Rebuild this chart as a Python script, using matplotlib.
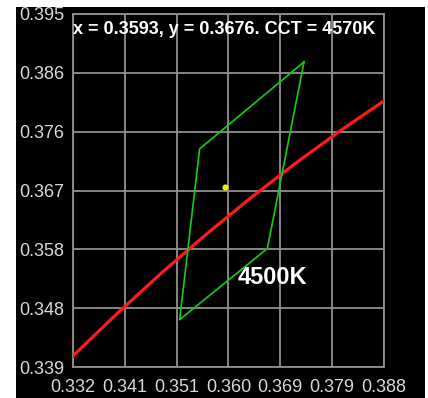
import matplotlib
matplotlib.use("Agg")
import matplotlib.pyplot as plt
from matplotlib.patches import Rectangle

# Planckian locus samples (CIE 1931 x, y)
locus_x = [0.332, 0.340, 0.348, 0.356, 0.364, 0.372, 0.380, 0.388]
locus_y = [0.34075, 0.34753, 0.35397, 0.36006, 0.36583, 0.37127, 0.37640, 0.38123]

# ANSI 4500K quadrangle corners
quad_x = [0.3736, 0.3548, 0.3512, 0.3670]
quad_y = [0.3874, 0.3736, 0.3465, 0.3578]

# Measured chromaticity
point_x = 0.3593
point_y = 0.3676
cct = 4570
nominal_label = "4500K"

x_ticks = [0.332, 0.341333, 0.350667, 0.360, 0.369333, 0.378667, 0.388]
y_ticks = [0.339, 0.348333, 0.357667, 0.367, 0.376333, 0.385667, 0.395]

FONT = "Liberation Sans"
W, H = 428, 398
fig = plt.figure(figsize=(W / 100, H / 100), dpi=100)
fig.patch.set_facecolor("white")
fig.patches.append(Rectangle((16 / W, 0), (425 - 16) / W, (H - 7) / H,
                             transform=fig.transFigure, facecolor="black",
                             edgecolor="none", zorder=-10))

ax = fig.add_axes([73 / W, (H - 367) / H, (384 - 73) / W, (367 - 14) / H])
ax.set_facecolor("black")
ax.set_xlim(x_ticks[0], x_ticks[-1])
ax.set_ylim(y_ticks[0], y_ticks[-1])
ax.set_xticks(x_ticks)
ax.set_yticks(y_ticks)
ax.set_xticklabels([f"{v:.3f}" for v in x_ticks])
ax.set_yticklabels([f"{v:.3f}" for v in y_ticks])

grid_col = "#919191"
ax.grid(True, color=grid_col, linewidth=1.3)
for s in ax.spines.values():
    s.set_color(grid_col)
    s.set_linewidth(1.3)
ax.tick_params(length=0, colors="#d8d8d8", labelsize=13)
ax.tick_params(axis="y", pad=6)
ax.tick_params(axis="x", pad=8.5)
for lab in ax.get_xticklabels() + ax.get_yticklabels():
    lab.set_family(FONT)
ax.set_axisbelow(True)

ax.plot(locus_x, locus_y, color="#ff1a1a", linewidth=2.3, zorder=3)
ax.plot(quad_x + quad_x[:1], quad_y + quad_y[:1], color="#14c814",
        linewidth=1.25, zorder=4)
ax.plot([point_x], [point_y], "o", color="#f2f20a", markersize=4.4,
        markeredgewidth=0, zorder=5)

ax.text(0.0, 1 - 16 / 353, f"x = {point_x:.4f}, y = {point_y:.4f}. CCT = {cct}K",
        transform=ax.transAxes, color="white", fontsize=13,
        fontweight="bold", family=FONT, va="center", ha="left", zorder=6)
ax.text(0.36171, 0.3532, nominal_label, color="white", fontsize=17,
        fontweight="bold", family=FONT, va="center", ha="left", zorder=6)

fig.savefig("out.png", dpi=100, facecolor=fig.get_facecolor())
